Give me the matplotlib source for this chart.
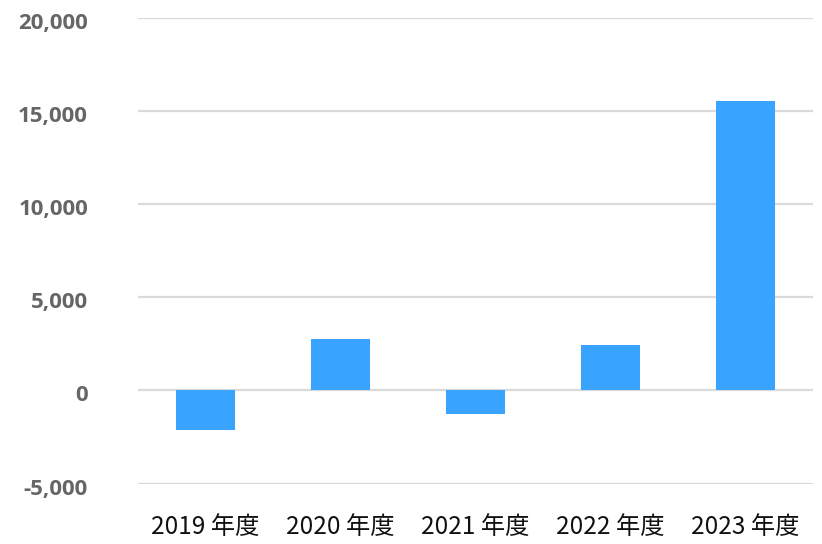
import matplotlib
matplotlib.use("Agg")
import matplotlib.pyplot as plt
import matplotlib.transforms as mtrans
from matplotlib.ticker import FuncFormatter

# ---------- data ----------
years = ["2019 年度", "2020 年度", "2021 年度", "2022 年度", "2023 年度"]
values = [-2150, 2740, -1250, 2430, 15550]
yticks = [-5000, 0, 5000, 10000, 15000, 20000]

BLUE = "#38A4FF"; GRID = "#DADADA"; TICK = "#666666"

fig = plt.figure(figsize=(8.22, 5.44), dpi=100)
ax = fig.add_axes([138/822, 60.5/544, 675/822, 465.5/544])

x = range(len(years))
ax.bar(x, values, width=0.44, color=BLUE, zorder=3)

ax.set_xlim(-0.5, len(years) - 0.5)
ax.set_ylim(-5000, 20000)
ax.set_yticks(yticks)
ax.yaxis.set_major_formatter(FuncFormatter(lambda v, p: f"{int(v):,}"))
ax.grid(axis="y", color=GRID, linewidth=1.6, zorder=0)
ax.set_axisbelow(True)
for s in ax.spines.values():
    s.set_visible(False)

ax.tick_params(axis="y", length=0, pad=36, labelsize=16, labelcolor=TICK)
# labels sit a few px below their gridline in the original
shift = mtrans.ScaledTranslation(0, -3/100, fig.dpi_scale_trans)
for t in ax.get_yticklabels():
    t.set_fontweight("bold")
    t.set_family(["Open Sans", "DejaVu Sans"])
    t.set_transform(t.get_transform() + shift)

ax.set_xticks(list(x))
ax.set_xticklabels(years, family=["Noto Sans CJK JP", "DejaVu Sans"], fontsize=17.5, color="#111111")
ax.tick_params(axis="x", length=0, pad=22)

plt.savefig("out.png", dpi=100, facecolor="white")
plt.close()
